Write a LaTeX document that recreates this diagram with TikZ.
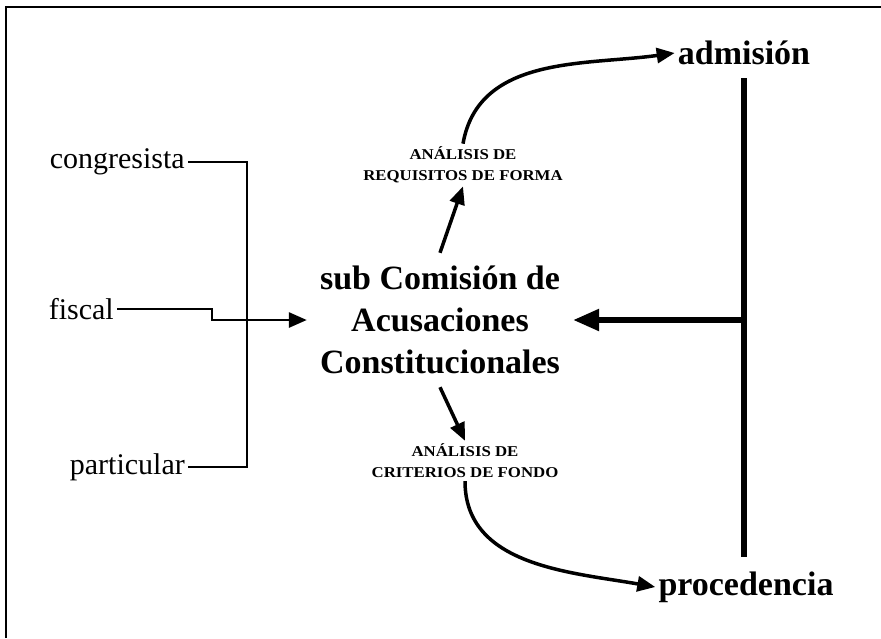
\documentclass[tikz,border=0pt]{standalone}
\usepackage{fontspec}
\setmainfont{Liberation Serif}
\usetikzlibrary{arrows.meta}

\begin{document}
\begin{tikzpicture}[x=1pt,y=-1pt,
  source/.style={font=\fontsize{30}{34}\selectfont,inner sep=3pt,anchor=east},
  outcome/.style={font=\bfseries\fontsize{34}{40}\selectfont,inner sep=3pt},
  review/.style={font=\bfseries\fontsize{15}{21}\selectfont,align=center,inner sep=3pt,xscale=1.12},
  tip/.style={-{Triangle[length=18pt,width=15pt]}},
  bigtip/.style={-{Triangle[length=26pt,width=21pt]}}]
\useasboundingbox (0,0) rectangle (881,638);
\draw[line width=1.8pt] (6,638) -- (6,7) -- (881,7);
% who can file
\node[source] (congresista) at (188,162) {congresista};
\node[source] (fiscal) at (117,309) {fiscal};
\node[source] (particular) at (188,467) {particular};
% the commission and its two reviews
\node[font=\bfseries\fontsize{34}{42}\selectfont,align=center,inner sep=13pt] (subcom) at (440,320) {sub Comisión de\\Acusaciones\\Constitucionales};
\node[review] (reqforma) at (463,165) {ANÁLISIS DE\\REQUISITOS DE FORMA};
\node[review] (critfondo) at (465,461) {ANÁLISIS DE\\CRITERIOS DE FONDO};
\node[outcome] (admision) at (744,53) {admisión};
\node[outcome] (procedencia) at (746,587) {procedencia};
% connectors
\draw[line width=2.8pt] (congresista.east) -- ++(59,0) |- (particular.east);
\draw[tip,line width=2.8pt] (fiscal.east) -- ++(95,0) |- (subcom.west);
\draw[tip,line width=3.5pt] (subcom.north) -- (reqforma.south);
\draw[tip,line width=3.5pt] (reqforma.north) to[out=80,in=188] (admision.west);
\draw[tip,line width=3.5pt] (subcom.south) -- (critfondo.north);
\draw[tip,line width=3.5pt] (critfondo.south) to[out=-90,in=170] (procedencia.west);
\draw[line width=5.5pt,shorten <=10pt,shorten >=11pt] (admision.south) -- (admision.south |- procedencia.north);
\coordinate (rjoin) at (admision.south |- subcom.east);
\draw[bigtip,line width=5.5pt] (rjoin) -- (subcom.east);
\end{tikzpicture}
\end{document}
